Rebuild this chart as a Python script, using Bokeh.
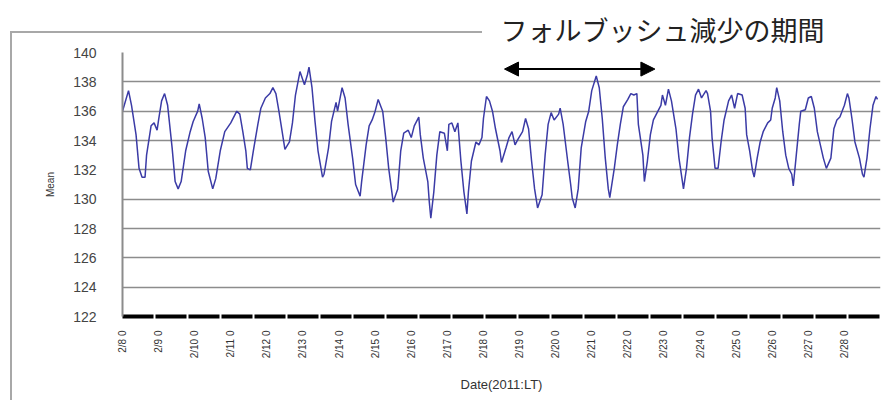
import math
from bokeh.plotting import figure
from bokeh.models import (Range1d, FixedTicker, Title, Arrow, NormalHead,
                          InlineStyleSheet)
from bokeh.embed import file_html
from bokeh.resources import INLINE

# ---- data: hours since 2011-02-08 00:00 LT and hourly mean counts ----
hours = [0, 4, 6, 9, 11, 13, 15, 16, 19, 21, 23, 24, 26, 28, 30, 33, 35, 37, 39, 42,
         45, 47, 50, 51, 53, 55, 57, 60, 62, 65, 68, 72, 73, 76, 78, 80, 82, 83, 85, 87,
         90, 92, 95, 98,
         100, 102, 104, 106, 108, 111, 113, 115, 118, 121, 123, 124, 126, 128, 130, 133,
         134, 137, 139, 142, 143, 146, 148, 150, 153, 155, 158, 159, 162, 164, 166, 168,
         170, 173, 175, 177, 180, 183, 185, 187, 190, 192, 194, 197,
         198, 200, 203, 204, 205, 207, 209, 211, 214, 216, 217, 219, 221, 223, 225, 227,
         229, 230, 232, 235, 237, 239, 240, 242, 244, 246, 248, 251, 252, 255, 257, 259,
         261, 263, 266, 268, 270, 272, 274, 276, 279, 281, 283, 285, 287, 290, 291, 293,
         296, 298, 299, 301, 303, 305, 308, 310, 312, 315, 317, 319, 321, 323, 324, 327,
         329, 331, 333, 336, 338, 340, 342, 343, 346, 347, 349, 351, 353, 356, 358, 359,
         361, 363, 365, 368, 370, 372, 373, 375, 377, 379, 381, 383, 385, 388, 389, 391,
         392, 394, 396,
         398, 400, 403, 405, 407, 409, 412, 414, 415, 417, 419, 420, 422, 424, 426, 429,
         431, 432, 434, 435, 437, 439, 441, 443, 445, 446, 448, 450, 451, 454, 456, 458,
         460, 462, 464, 466, 468, 471, 473, 475, 477, 480, 482, 483, 485, 487, 490, 492,
         493, 495, 497, 499, 501, 502]

mean = [136.0, 137.4, 136.4, 134.4, 132.1, 131.5, 131.5, 133.0, 135.0, 135.2, 134.7, 135.4,
        136.7, 137.2, 136.4, 133.5, 131.2, 130.7, 131.2, 133.3, 134.6, 135.3, 136.0, 136.5,
        135.5, 134.2, 131.9, 130.7, 131.4, 133.3, 134.6, 135.2, 135.4, 136.0, 135.8, 134.6,
        133.3, 132.1, 132.0, 133.3, 135.1, 136.2, 136.9, 137.2,
        137.6, 137.2, 136.0, 134.7, 133.4, 133.9, 135.2, 137.1, 138.7, 137.8, 138.5, 139.0,
        137.6, 135.3, 133.3, 131.5, 131.7, 133.5, 135.3, 136.6, 136.0, 137.6, 136.9, 135.1,
        132.8, 131.0, 130.2, 131.2, 133.7, 135.0, 135.4, 136.0, 136.8, 136.0, 134.2, 132.1,
        129.8, 130.7, 133.3, 134.5, 134.7, 134.2, 135.0, 135.6,
        134.4, 132.8, 131.2, 129.8, 128.7, 130.5, 133.0, 134.6, 134.5, 133.3, 135.1, 135.2,
        134.6, 135.2, 132.6, 130.5, 129.0, 130.5, 132.6, 133.9, 133.7, 134.2, 135.5, 137.0,
        136.7, 136.0, 134.8, 133.3, 132.5, 133.5, 134.2, 134.6, 133.7, 134.1, 134.6, 135.5,
        134.8, 132.6, 130.7, 129.4, 130.3, 133.0, 135.1, 135.9, 135.4, 135.8, 136.2, 135.1,
        132.6, 131.0, 130.1, 129.4, 130.7, 133.5, 135.3, 136.0, 137.4, 138.4, 137.6, 135.5,
        132.8, 130.7, 130.1, 132.1, 133.7, 135.1, 136.3, 136.8, 137.2, 137.1, 137.2, 135.1,
        133.0, 131.2, 132.6, 134.4, 135.4, 136.0, 136.4, 137.1, 136.4, 137.5, 136.7, 134.8,
        132.8, 131.4, 130.7, 132.1, 134.2, 135.8, 137.1, 137.5, 136.9, 137.4, 137.2, 136.0,
        134.2, 132.1, 132.1,
        133.9, 135.4, 136.7, 137.1, 136.2, 137.2, 137.1, 136.2, 134.4, 133.3, 131.9, 131.5,
        132.8, 133.9, 134.6, 135.2, 135.4, 136.2, 136.9, 137.6, 136.7, 134.6, 133.0, 132.1,
        131.7, 130.9, 133.0, 135.1, 136.0, 136.1, 136.9, 137.0, 136.2, 134.6, 133.7, 132.8,
        132.1, 132.8, 134.8, 135.4, 135.6, 136.4, 137.2, 136.9, 135.5, 133.9, 132.8, 131.7,
        131.5, 132.8, 134.8, 136.4, 137.0, 136.8]

day_ticks = [0, 24, 48, 72, 96, 120, 144, 168, 192, 216, 240, 264, 288, 312, 336, 360,
             384, 408, 432, 456, 480]
day_labels = ["2/8 0", "2/9 0", "2/10 0", "2/11 0", "2/12 0", "2/13 0", "2/14 0",
              "2/15 0", "2/16 0", "2/17 0", "2/18 0", "2/19 0", "2/20 0", "2/21 0",
              "2/22 0", "2/23 0", "2/24 0", "2/25 0", "2/26 0", "2/27 0", "2/28 0"]
y_ticks = [122, 124, 126, 128, 130, 132, 134, 136, 138, 140]
grid_ticks = [124, 126, 128, 130, 132, 134, 136, 138]

# Forbush decrease period (hours since 2/8 00:00)
period_start = 254
period_end = 354
period_level = 138.87
period_text = "フォルブッシュ減少の期間"

# partial outer border of the original chart area (decoration, drawn by CSS)
border_css = """
:host { position: relative; }
:host::after {
  content: "";
  position: absolute;
  left: 10px; top: 31px; width: 470px; height: 380px;
  border-top: 2px solid #a8a8a8;
  border-left: 2px solid #a8a8a8;
  pointer-events: none;
  z-index: 5;
}
"""

p = figure(width=884, height=400, output_backend="svg", toolbar_location=None,
           x_range=Range1d(0, 504), y_range=Range1d(122, 140),
           min_border_left=122, min_border_right=4, min_border_top=52,
           min_border_bottom=84)
p.outline_line_color = None
p.background_fill_color = "white"
p.border_fill_color = "white"
p.stylesheets = [InlineStyleSheet(css=border_css)]

p.line(hours, mean, line_color="#3b3ba6", line_width=1.5)

# axes
p.yaxis.ticker = FixedTicker(ticks=y_ticks)
p.yaxis.axis_line_color = "#8c8c8c"
p.yaxis.axis_line_width = 2
p.yaxis.major_tick_line_color = None
p.yaxis.minor_tick_line_color = None
p.yaxis.major_label_standoff = 20
p.yaxis.major_label_text_font = "Liberation Sans"
p.yaxis.major_label_text_font_size = "14px"
p.yaxis.major_label_text_color = "#444444"
p.yaxis.axis_label = "Mean"
p.yaxis.axis_label_text_font = "Liberation Sans"
p.yaxis.axis_label_text_font_size = "10px"
p.yaxis.axis_label_text_font_style = "normal"
p.yaxis.axis_label_text_color = "#333333"
p.yaxis.axis_label_standoff = 14

p.xaxis.ticker = FixedTicker(ticks=day_ticks)
p.xaxis.major_label_overrides = {t: lab for t, lab in zip(day_ticks, day_labels)}
p.xaxis.major_label_orientation = math.pi / 2
p.xaxis.axis_line_color = "black"
p.xaxis.axis_line_width = 4
p.xaxis.axis_line_dash = "31 2"
p.xaxis.major_tick_line_color = None
p.xaxis.minor_tick_line_color = None
p.xaxis.major_label_standoff = 8
p.xaxis.major_label_text_font = "Liberation Sans"
p.xaxis.major_label_text_font_size = "10px"
p.xaxis.major_label_text_color = "#333333"
p.xaxis.axis_label = "Date(2011:LT)"
p.xaxis.axis_label_text_font = "Liberation Sans"
p.xaxis.axis_label_text_font_size = "13px"
p.xaxis.axis_label_text_font_style = "normal"
p.xaxis.axis_label_text_color = "#333333"
p.xaxis.axis_label_standoff = 16

p.xgrid.grid_line_color = None
p.ygrid.ticker = FixedTicker(ticks=grid_ticks)
p.ygrid.grid_line_color = "#8c8c8c"
p.ygrid.grid_line_width = 1.5

# period arrow and text
p.add_layout(Arrow(start=NormalHead(size=14, fill_color="black", line_color="black"),
                   end=NormalHead(size=14, fill_color="black", line_color="black"),
                   x_start=period_start, y_start=period_level,
                   x_end=period_end, y_end=period_level,
                   line_color="black", line_width=2))
p.add_layout(Title(text=period_text, align="left", offset=378,
                   text_font="Noto Sans CJK JP", text_font_size="27px",
                   text_font_style="normal", text_color="#222222",
                   standoff=8), "above")

open("out.html", "w").write(file_html(p, INLINE))
